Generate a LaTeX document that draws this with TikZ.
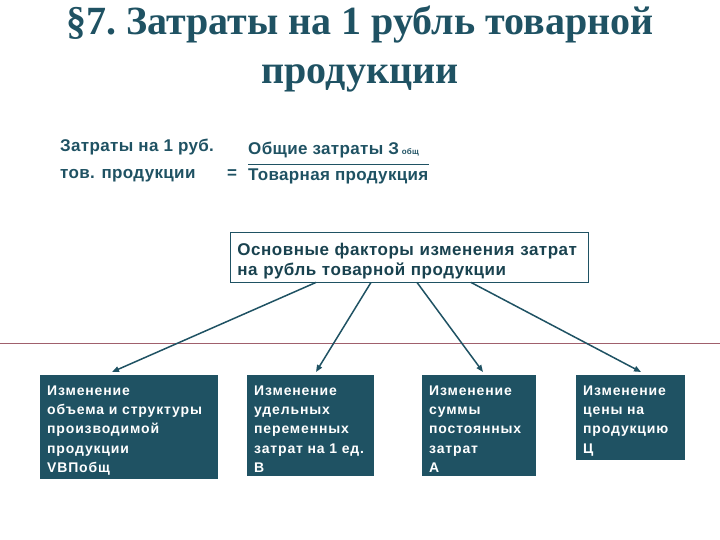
\documentclass[tikz,border=0pt]{standalone}
\usepackage{fontspec}
\setmainfont{Liberation Sans}
\newfontfamily\titlefont{Liberation Serif}
\newfontfamily\boxfont[LetterSpace=6]{Liberation Sans}
\newfontfamily\headfont[LetterSpace=3]{Liberation Sans}
\newfontfamily\formfont[LetterSpace=2]{Liberation Sans}
\usetikzlibrary{arrows.meta}
\definecolor{slate}{HTML}{1F5263}
\definecolor{redrule}{HTML}{A0606C}
\newcommand{\firstgap}[1]{\rule{0pt}{#1}}

\begin{document}
\begin{tikzpicture}[x=1pt,y=-1pt,
  factorbox/.style={draw=slate,fill=slate,text=white,anchor=north west,align=left,
    font=\boxfont\bfseries\fontsize{14}{19.3}\selectfont,inner xsep=7pt,inner ysep=3pt,
    execute at begin node=\firstgap{17pt}},
  formula/.style={text=slate,anchor=base west,inner sep=0pt,font=\formfont\bfseries\fontsize{17}{20}\selectfont},
  link/.style={draw=slate,line width=1.5pt,-{Triangle[length=7pt,width=5.5pt]}}]
\useasboundingbox (0,0) rectangle (720,540);
% title
\node[text=slate,align=center,font=\titlefont\bfseries\fontsize{40}{49}\selectfont] (title) at (360,49) {\S7.\ Затраты на 1 рубль товарной\\продукции};
% formula
\node[formula] (costlabel) at (60,152) {Затраты на 1 руб.};
\node[formula] (goodslabel) at (60,179) {тов. продукции};
\node[formula] (eq) at (227,179) {=};
\node[formula] (numer) at (248,155) {Общие затраты З\,{\fontsize{8}{8}\selectfont общ}};
\node[formula] (denom) at (248,181) {Товарная продукция};
\draw[slate,line width=0.9pt] ([yshift=5pt]denom.north west) -- ([yshift=5pt]denom.north east);
% red rule
\draw[redrule,line width=0.8pt] (0,343) -- (720,343);
% factors box
\node[draw=slate,line width=0.9pt,fill=white,text=slate!80!black,anchor=north west,align=left,
  text width=344pt,inner xsep=7pt,inner ysep=3pt,
  font=\headfont\bfseries\fontsize{17}{20}\selectfont] (factors) at (230,232)
  {\firstgap{20pt}Основные факторы изменения затрат\\на рубль товарной продукции};
% four factors
\node[factorbox,text width=163pt] (volume) at (40,375) {Изменение\\объема и структуры\\производимой\\продукции\\VBПобщ};
\node[factorbox,text width=112pt] (variable) at (247,375) {Изменение\\удельных\\переменных\\затрат на 1 ед.\\В};
\node[factorbox,text width=99pt] (fixed) at (422,375) {Изменение\\суммы\\постоянных\\затрат\\А};
\node[factorbox,text width=94pt] (price) at (576,375) {Изменение\\цены на\\продукцию\\Ц};
% arrows
\draw[link] ([xshift=86pt]factors.south west) -- ([xshift=72pt,yshift=3pt]volume.north west);
\draw[link] ([xshift=141pt]factors.south west) -- ([xshift=69pt,yshift=3pt]variable.north west);
\draw[link] ([xshift=187pt]factors.south west) -- ([xshift=61pt,yshift=3pt]fixed.north west);
\draw[link] ([xshift=241pt]factors.south west) -- ([xshift=65pt,yshift=3pt]price.north west);
\end{tikzpicture}
\end{document}
